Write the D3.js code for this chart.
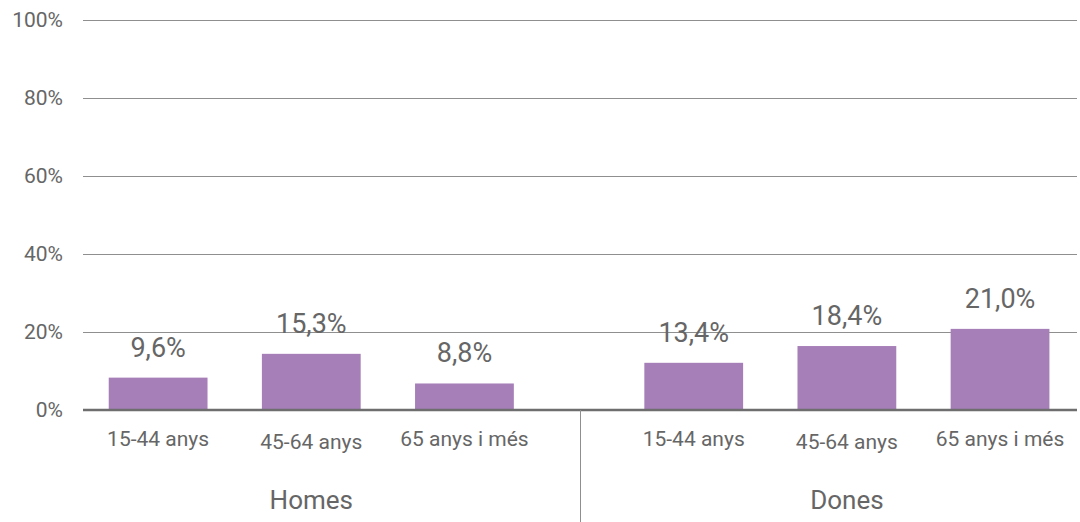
<!DOCTYPE html>
<html>
<head>
<meta charset="utf-8">
<script src="https://cdn.jsdelivr.net/npm/d3@7"></script>
<style>
  body { margin: 0; background: #fff; }
  svg text { font-family: Roboto, "Noto Sans", sans-serif; fill: #666; }
</style>
</head>
<body>
<svg id="chart" width="1080" height="522"></svg>
<script>
const groups = ['Homes', 'Dones']
const ages = ['15-44 anys', '45-64 anys', '65 anys i més']
// bar heights as drawn in the picture (%)
const barValues = [[8.3, 14.4, 6.8], [12.1, 16.4, 20.8]]
// values printed above the bars (%)
const labelValues = [[9.6, 15.3, 8.8], [13.4, 18.4, 21.0]]
const yTicks = [0, 20, 40, 60, 80, 100]

const width = 1080, height = 522
const margin = {top: 20, right: 3, bottom: 112, left: 83}

const svg = d3.select('#chart')
const locale = d3.formatLocale({decimal: ',', thousands: '.', grouping: [3], currency: ['', '€']})
const fmt = locale.format('.1f')

const y = d3.scaleLinear().domain([0, 100]).range([height - margin.bottom, margin.top])
const xGroup = d3.scaleBand().domain(groups).range([margin.left, width - margin.right])
// Homes bars sit to the left of their half, Dones to the right (mirror about the divider)
const xInner = groups.map((g, i) => d3.scaleBand()
  .domain(ages)
  .range([0, xGroup.bandwidth()])
  .paddingInner(0.355)
  .paddingOuter(0.3)
  .align(i === 0 ? 0.28 : 0.7))

// Gridlines
svg.append('g').attr('class', 'grid')
  .selectAll('line').data(yTicks.filter(d => d > 0)).join('line')
  .attr('x1', margin.left).attr('x2', width - margin.right)
  .attr('y1', d => y(d) + 0.5).attr('y2', d => y(d) + 0.5)
  .attr('stroke', '#8f8f8f').attr('stroke-width', 1)

// Y axis labels
svg.append('g').attr('class', 'yLabels')
  .selectAll('text').data(yTicks).join('text')
  .attr('x', 63).attr('y', d => y(d)).attr('dy', '0.35em')
  .attr('text-anchor', 'end').style('font-size', '21px')
  .text(d => d + '%')

const rows = []
groups.forEach((g, gi) => ages.forEach((a, ai) => rows.push({
  group: g, gi, age: a, ai, value: barValues[gi][ai], label: labelValues[gi][ai]
})))
const barX = d => xGroup(d.group) + xInner[d.gi](d.age)
const barW = xInner[0].bandwidth()

// Bars
svg.append('g').attr('class', 'bars')
  .selectAll('rect').data(rows).join('rect')
  .attr('x', barX).attr('width', barW)
  .attr('y', d => y(d.value)).attr('height', d => y(0) - y(d.value))
  .attr('fill', '#a67fb8')

// Value labels
svg.append('g').attr('class', 'values')
  .selectAll('text').data(rows).join('text')
  .attr('x', d => barX(d) + barW / 2)
  .attr('y', d => y(d.value) - 21)
  .attr('text-anchor', 'middle').style('font-size', '27px')
  .text(d => fmt(d.label) + '%')

// Baseline
svg.append('line')
  .attr('x1', margin.left).attr('x2', width - margin.right)
  .attr('y1', y(0)).attr('y2', y(0))
  .attr('stroke', '#6e6e6e').attr('stroke-width', 2.5)

// Divider between groups
svg.append('line')
  .attr('x1', xGroup('Dones') + 0.5).attr('x2', xGroup('Dones') + 0.5)
  .attr('y1', y(0)).attr('y2', height)
  .attr('stroke', '#8f8f8f').attr('stroke-width', 1)

// Age labels (middle one sits a little lower, as in the original)
svg.append('g').attr('class', 'ageLabels')
  .selectAll('text').data(rows).join('text')
  .attr('x', d => barX(d) + barW / 2)
  .attr('y', d => y(0) + (d.ai === 1 ? 38.5 : 35.5))
  .attr('text-anchor', 'middle').style('font-size', '21px')
  .text(d => d.age)

// Group labels centred under the middle bar
svg.append('g').attr('class', 'groupLabels')
  .selectAll('text').data(groups).join('text')
  .attr('x', (g, gi) => xGroup(g) + xInner[gi](ages[1]) + barW / 2)
  .attr('y', y(0) + 99)
  .attr('text-anchor', 'middle').style('font-size', '26px')
  .text(d => d)
</script>
</body>
</html>
